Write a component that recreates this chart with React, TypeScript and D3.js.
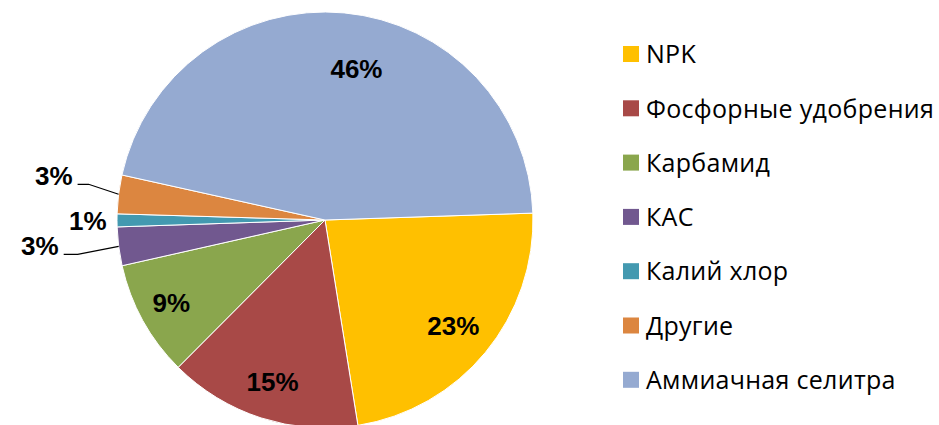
import React from "react";
import * as d3 from "d3";

const categories = ["NPK", "Фосфорные удобрения", "Карбамид", "КАС", "Калий хлор", "Другие", "Аммиачная селитра"];
const values = [23, 15, 9, 3, 1, 3, 46];
const colors = ["#FFC000", "#A84947", "#8AA64D", "#71588F", "#4399B0", "#DC8640", "#95AAD1"];
const labels = values.map((v) => `${v}%`);

const W = 939;
const H = 425;
const cx = 325;
const cy = 220;
const R = 208;
const startDeg = 88.1;

export default function App() {
  const pie = d3
    .pie<number>()
    .sort(null)
    .value((d) => d)
    .startAngle((startDeg * Math.PI) / 180)
    .endAngle(((startDeg + 360) * Math.PI) / 180);
  const arcs = pie(values);
  const arc = d3.arc<d3.PieArcDatum<number>>().innerRadius(0).outerRadius(R);

  const polar = (a: number, r: number) => [Math.sin(a) * r, -Math.cos(a) * r];

  // label placement: [radius factor, angle shift in degrees]
  const inside: Record<number, [number, number]> = {
    0: [0.8, 0],
    1: [0.82, 0],
    2: [0.84, 0.5],
    6: [0.74, 6.5],
  };
  const labelFont = "Liberation Sans, Arial, sans-serif";

  return (
    <svg width={W} height={H} style={{ position: "absolute", left: 0, top: 0, background: "#fff" }}>
      <g transform={`translate(${cx},${cy})`}>
        {arcs.map((a, i) => (
          <path key={i} d={arc(a) || ""} fill={colors[i]} stroke="#fff" strokeWidth={1} />
        ))}
        {arcs.map((a, i) => {
          const mid = (a.startAngle + a.endAngle) / 2;
          if (inside[i]) {
            const [k, shift] = inside[i];
            const [x, y] = polar(mid + (shift * Math.PI) / 180, R * k);
            return (
              <text key={"l" + i} x={x} y={y} dy="0.35em" textAnchor="middle"
                fontFamily={labelFont} fontWeight="bold" fontSize={26} fill="#000">
                {labels[i]}
              </text>
            );
          }
          if (i === 4) {
            const [x, y] = polar(mid, R * 1.14);
            return (
              <text key={"l" + i} x={x} y={y} dy="0.35em" textAnchor="middle"
                fontFamily={labelFont} fontWeight="bold" fontSize={26} fill="#000">
                {labels[i]}
              </text>
            );
          }
          // leader-line labels
          const [ex, ey] = polar(mid, R);
          const up = i === 5;
          const elbowX = ex - (up ? 30 : 41);
          const elbowY = ey + (up ? -10 : 8);
          const endX = elbowX - (up ? 11 : 14);
          return (
            <g key={"l" + i}>
              <polyline points={`${ex},${ey} ${elbowX},${elbowY} ${endX},${elbowY}`} fill="none" stroke="#000" strokeWidth={1.2} />
              <text x={endX - 5} y={elbowY + (up ? -8 : -9)} dy="0.35em" textAnchor="end"
                fontFamily={labelFont} fontWeight="bold" fontSize={26} fill="#000">
                {labels[i]}
              </text>
            </g>
          );
        })}
      </g>
      <g transform="translate(623,46)">
        {categories.map((c, i) => (
          <g key={c} transform={`translate(0,${i * 54.3})`}>
            <rect x={0} y={0} width={16} height={16} fill={colors[i]} />
            <text x={23} y={8.5} dy="0.35em" fontFamily="Open Sans, sans-serif" fontSize={25} letterSpacing={0.3} fill="#000">
              {c}
            </text>
          </g>
        ))}
      </g>
    </svg>
  );
}
